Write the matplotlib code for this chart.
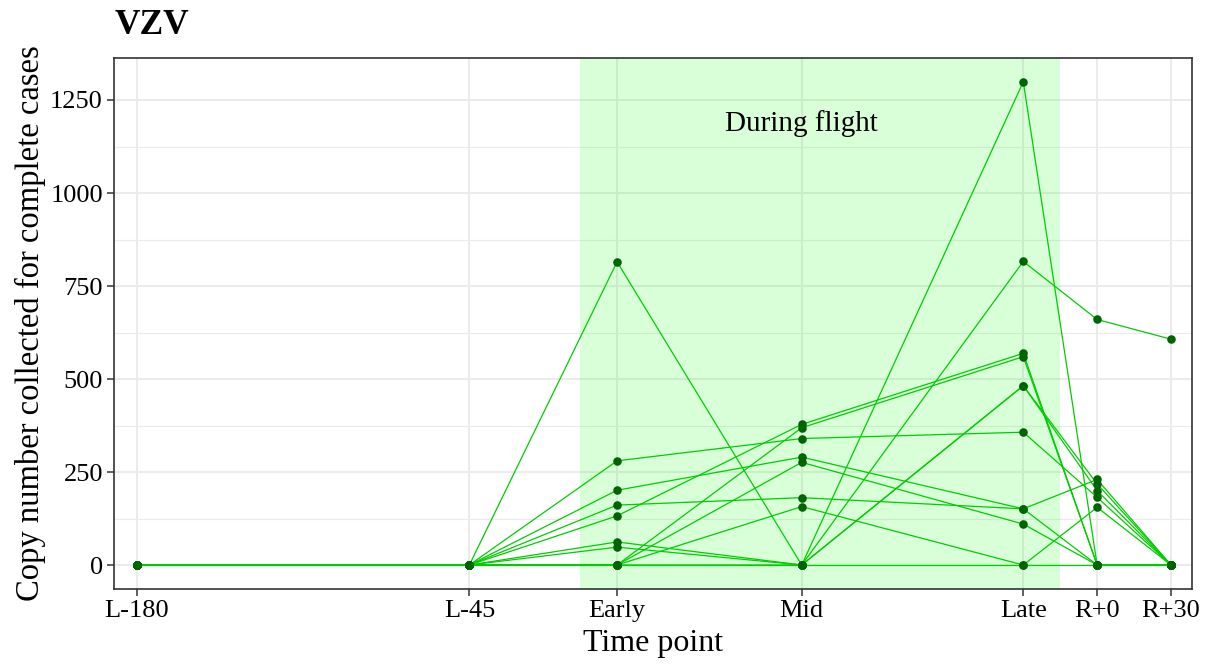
import matplotlib
matplotlib.use("Agg")
import matplotlib.pyplot as plt
from matplotlib.ticker import FixedLocator

plt.rcParams['font.family'] = ['Liberation Serif', 'DejaVu Serif']

# ---- data ----
time_labels = ["L-180", "L-45", "Early", "Mid", "Late", "R+0", "R+30"]
time_days = [-180, -45, 15, 90, 180, 210, 240]
flight_start = 0
flight_end = 195

s01 = [0, 0, 815, 0, 1299, 0, 0]
s02 = [0, 0, 280, 340, 357, 182, 0]
s03 = [0, 0, 201, 290, 151, 230, 0]
s04 = [0, 0, 161, 181, 151, 0, 0]
s05 = [0, 0, 132, 378, 569, 0, 0]
s06 = [0, 0, 62, 0, 482, 218, 0]
s07 = [0, 0, 48, 0, 482, 200, 0]
s08 = [0, 0, 0, 369, 560, 0, 0]
s09 = [0, 0, 0, 276, 110, 0, 0]
s10 = [0, 0, 0, 157, 0, 155, 0]
s11 = [0, 0, 0, 0, 816, 660, 607]
s12 = [0, 0, 0, 0, 0, 0, 0]
subjects = [s01, s02, s03, s04, s05, s06, s07, s08, s09, s10, s11, s12]

y_major = [0, 250, 500, 750, 1000, 1250]
y_minor = [125, 375, 625, 875, 1125]

# ---- figure ----
W, H = 1210, 664
fig = plt.figure(figsize=(W / 100, H / 100), dpi=100)
L, R, T, B = 114, 1192, 58, 589
ax = fig.add_axes([L / W, 1 - B / H, (R - L) / W, (B - T) / H])

ax.set_xlim(-189.34, 248.53)
ax.set_ylim(-64.5, 1362.9)

ax.set_axisbelow(True)
ax.xaxis.set_major_locator(FixedLocator(time_days))
ax.set_xticklabels(time_labels)
ax.yaxis.set_major_locator(FixedLocator(y_major))
ax.yaxis.set_minor_locator(FixedLocator(y_minor))
ax.grid(which='major', color='#EBEBEB', lw=1.5, zorder=0)
ax.grid(which='minor', axis='y', color='#EBEBEB', lw=0.8, zorder=0)
ax.tick_params(axis='both', which='major', length=5, width=1.1, color='#333333',
               labelsize=19, labelcolor='black', pad=3)
ax.tick_params(axis='y', which='minor', length=0)
for sp in ax.spines.values():
    sp.set_color('#333333')
    sp.set_linewidth(1.2)

ax.axvspan(flight_start, flight_end, color='#00FF00', alpha=0.15, lw=0, zorder=1)

for s in subjects:
    ax.plot(time_days, s, color='#00CD00', lw=0.9, zorder=2)
for s in subjects:
    ax.scatter(time_days, s, s=38, color='#006400', zorder=3, linewidths=0)

ax.text(90, 1188, "During flight", ha='center', va='center', fontsize=21)

fig.text(115 / W, 1 - 25 / H, "VZV", fontsize=25.5, fontweight='bold',
         ha='left', va='center')
fig.text(30 / W, 1 - 323 / H, "Copy number collected for complete cases",
         rotation=90, ha='center', va='center', fontsize=23.5)
fig.text(653 / W, 1 - 644 / H, "Time point", ha='center', va='center', fontsize=23)

fig.savefig("out.png", dpi=100)
